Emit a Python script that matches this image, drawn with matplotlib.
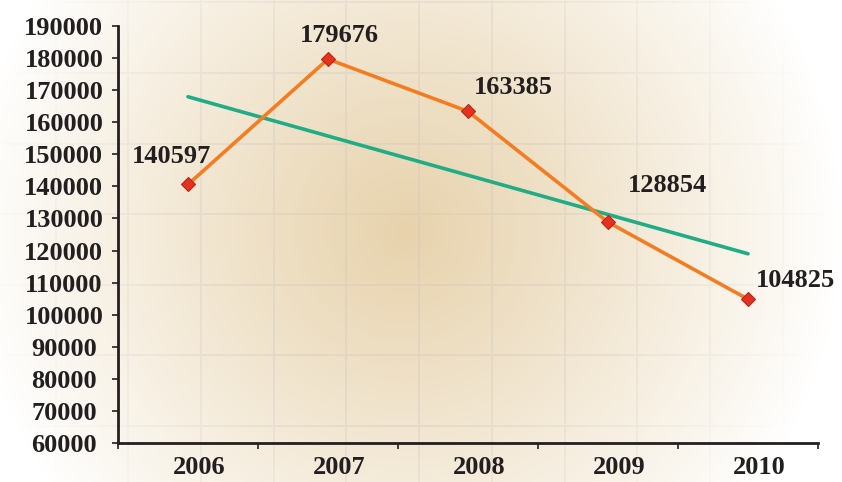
import numpy as np
import matplotlib
matplotlib.use('Agg')
import matplotlib.pyplot as plt
from matplotlib.ticker import MultipleLocator, FixedLocator
from matplotlib.transforms import ScaledTranslation

# Yearly totals
years = ['2006', '2007', '2008', '2009', '2010']
values = [140597, 179676, 163385, 128854, 104825]

# Label offsets (pixels) from each point
label_offsets = [(-16, 28), (11, 24), (45, 24), (60, 37), (48, 19)]

W, H = 842, 482
plt.rcParams['font.family'] = ['Liberation Serif', 'DejaVu Serif']
plt.rcParams['font.weight'] = 'bold'

fig = plt.figure(figsize=(W / 100, H / 100), dpi=100)

# --- radial beige background with a faint square grid ---
yy, xx = np.mgrid[0:H, 0:W].astype(float)
r = np.hypot(xx - 405, yy - 230)
f = np.clip(1 - r / 435, 0, 1) ** 0.95
white = np.array([1.0, 1.0, 1.0])
tan = np.array([231, 210, 172]) / 255
img = white + (tan - white) * f[..., None]

grid_col = np.array([200, 195, 190]) / 255
mask = np.zeros((H, W))
for gx in np.arange(200 - 72.7 * 2, W, 72.7):
    mask[:, int(round(gx)):int(round(gx)) + 2] = 1
for gy in np.arange(72 - 70.6, H, 70.6):
    mask[int(round(gy)):int(round(gy)) + 2, :] = 1
a = (mask * np.clip(f * 1.8, 0, 1) * 0.28)[..., None]
img = img * (1 - a) + grid_col * a

bg = fig.add_axes([0, 0, 1, 1])
bg.imshow(img, extent=[0, W, H, 0], aspect='auto', interpolation='bilinear')
bg.set_axis_off()

# --- main chart ---
ax = fig.add_axes([118 / W, 39 / H, 700 / W, 417 / H])
ax.set_facecolor('none')
x = np.arange(len(years))

slope, intercept = np.polyfit(x, values, 1)
ax.plot(x, slope * x + intercept, color='#20AC84', lw=2.6,
        solid_capstyle='round', zorder=2)
ax.plot(x, values, color='#F47D22', lw=2.6, marker='D', markersize=7,
        markerfacecolor='#E5321F', markeredgecolor='#B8231A',
        markeredgewidth=0.8, zorder=3)

for xi, v, (dx, dy) in zip(x, values, label_offsets):
    ax.annotate(str(v), (xi, v), xytext=(dx, dy), textcoords='offset pixels',
                ha='center', va='center', fontsize=19, fontweight='bold',
                color='#231F20')

ax.set_xlim(-0.5, 4.5)
ax.set_ylim(60000, 190000)
ax.yaxis.set_major_locator(MultipleLocator(10000))
ax.set_xticks(x)
ax.set_xticklabels(years)
ax.xaxis.set_minor_locator(FixedLocator(np.arange(-0.5, 5, 1)))

for side in ['top', 'right']:
    ax.spines[side].set_visible(False)
for side in ['left', 'bottom']:
    ax.spines[side].set_linewidth(2)
    ax.spines[side].set_color('#231F20')

ax.tick_params(axis='x', which='major', length=0, pad=9,
               labelsize=19, labelcolor='#231F20')
ax.tick_params(axis='x', which='minor', length=4, width=1.2,
               color='#231F20')
ax.tick_params(axis='y', length=4, width=1.2, color='#231F20',
               labelsize=19, labelcolor='#231F20', pad=35)
for lbl in ax.get_yticklabels():
    lbl.set_ha('center')
    lbl.set_fontweight('bold')
# year labels sit a little right of their band centres
shift = ScaledTranslation(0.11, 0, fig.dpi_scale_trans)
for lbl in ax.get_xticklabels():
    lbl.set_fontweight('bold')
    lbl.set_transform(lbl.get_transform() + shift)

fig.savefig('out.png', dpi=100)
